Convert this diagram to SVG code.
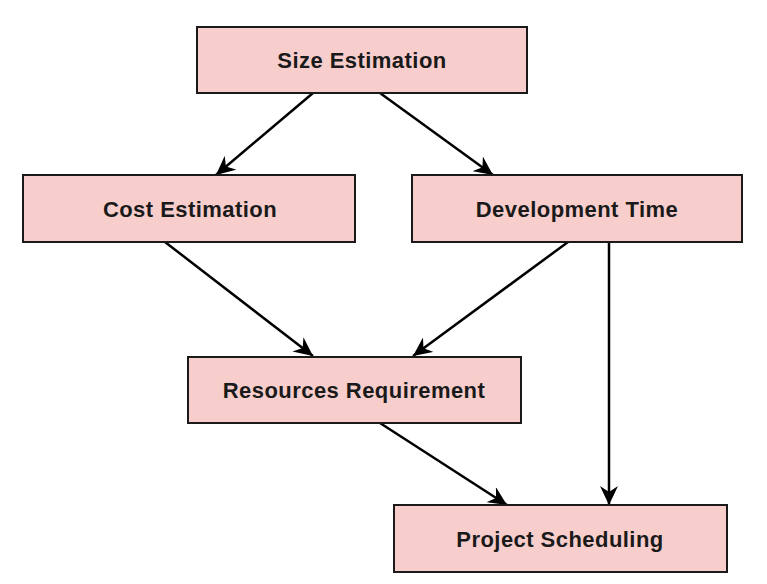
<svg xmlns="http://www.w3.org/2000/svg" width="767" height="584" viewBox="0 0 767 584">
<defs>
<style>
.box{fill:#f8cecc;stroke:#1a1a1a;stroke-width:2}
.lbl{font-family:"Liberation Sans",Arial,sans-serif;font-weight:bold;font-size:22px;letter-spacing:0.45px;fill:#1a1a1a;text-anchor:middle}
.edge{stroke:#000;stroke-width:2.5;fill:none;marker-end:url(#arr)}
</style>
<marker id="arr" markerUnits="userSpaceOnUse" viewBox="0 0 19 18" markerWidth="19" markerHeight="18" refX="19" refY="9" orient="auto">
<path d="M0,0 L19,9 L0,18 L6,9 z" fill="#000"/>
</marker>
</defs>
<rect width="767" height="584" fill="#fff"/>
<g id="connectors">
<line class="edge" x1="313" y1="93" x2="216" y2="175"/>
<line class="edge" x1="380" y1="93" x2="493" y2="175"/>
<line class="edge" x1="165" y1="242" x2="313" y2="356"/>
<line class="edge" x1="568" y1="242" x2="413" y2="356"/>
<line class="edge" x1="609" y1="242" x2="609" y2="505"/>
<line class="edge" x1="380" y1="423" x2="507" y2="505"/>
</g>
<g id="size">
<rect class="box" x="197" y="27" width="330" height="66"/>
<text class="lbl" x="362" y="68">Size Estimation</text>
</g>
<g id="cost">
<rect class="box" x="23" y="175" width="332" height="67"/>
<text class="lbl" x="190" y="217">Cost Estimation</text>
</g>
<g id="devtime">
<rect class="box" x="412" y="175" width="330" height="67"/>
<text class="lbl" x="577" y="217">Development Time</text>
</g>
<g id="resources">
<rect class="box" x="188" y="357" width="333" height="66"/>
<text class="lbl" x="354" y="398">Resources Requirement</text>
</g>
<g id="scheduling">
<rect class="box" x="394" y="505" width="333" height="67"/>
<text class="lbl" x="560" y="547">Project Scheduling</text>
</g>
</svg>
